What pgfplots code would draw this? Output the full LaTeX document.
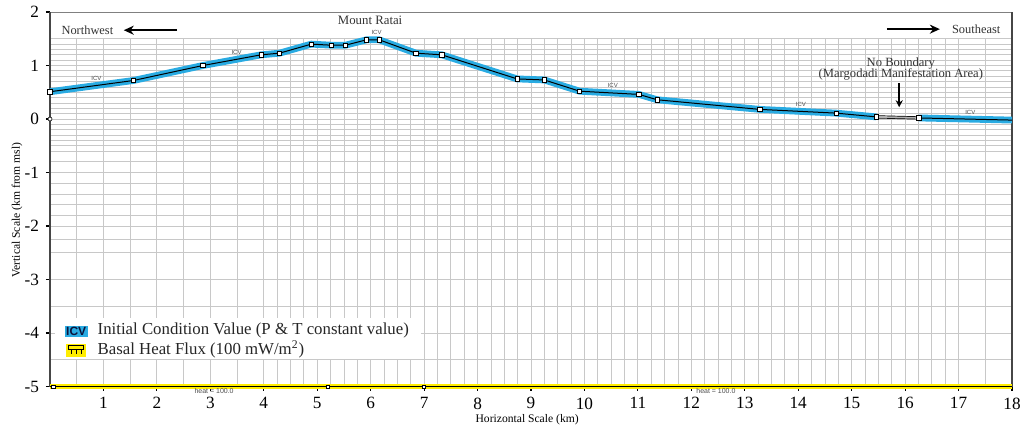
\documentclass[border=0pt]{standalone}
\usepackage{pgfplots}
\pgfplotsset{compat=1.18}
\usepackage{pgfplotstable}
\usepackage{fontspec}
\setmainfont{Liberation Serif}
\setsansfont{Liberation Sans}
\usetikzlibrary{arrows.meta}
\definecolor{icv}{RGB}{41,171,226}
\definecolor{heat}{RGB}{255,237,0}
\definecolor{gridc}{RGB}{200,200,200}
\definecolor{spine}{RGB}{70,70,70}

\pgfplotstableread{
x y
0.00 0.51
1.56 0.72
2.86 1.00
3.95 1.20
4.29 1.23
4.89 1.40
5.26 1.38
5.53 1.38
5.92 1.48
6.16 1.48
6.85 1.23
7.33 1.20
8.74 0.75
9.25 0.73
9.91 0.52
11.02 0.46
11.36 0.36
13.28 0.18
14.71 0.11
15.46 0.04
}\west
\pgfplotstableread{
x y
15.46 0.04
16.26 0.02
}\nob
\pgfplotstableread{
x y
16.26 0.02
18.00 -0.02
}\east
\pgfplotstableread{
x y
0 -5
18 -5
}\base

\begin{document}
\begin{tikzpicture}
\begin{axis}[
  name=ax, anchor=south west, at={(0,0)},
  scale only axis, width=481pt, height=187.25pt,
  xmin=0, xmax=18, ymin=-5, ymax=2,
  axis line style={draw=none},
  xtick={1,...,18}, ytick={-5,...,2},
  xtick pos=bottom, ytick pos=left,
  tick align=outside, major tick length=2pt,
  tick style={black, line width=0.6pt},
  ticklabel style={font=\fontsize{8.6}{9}\selectfont},
  /pgf/number format/assume math mode=true,
  xlabel={Horizontal Scale (km)},
  ylabel={Vertical Scale (km from msl)},
  xlabel style={font=\fontsize{5.8}{6}\selectfont, at={(axis description cs:0.496,-0.0894)}, anchor=center},
  ylabel style={font=\fontsize{5.8}{6}\selectfont, at={(axis description cs:-0.0343,0.471)}, anchor=center, rotate=0},
  clip=false,
]
% grid
\pgfplotsinvokeforeach{0.5,1,...,4}{\draw[gridc, line width=0.4pt] (axis cs:#1,-5) -- (axis cs:#1,1.5);}
\pgfplotsinvokeforeach{4.25,4.5,...,17}{\draw[gridc, line width=0.4pt] (axis cs:#1,-5) -- (axis cs:#1,1.5);}
\draw[gridc, line width=0.4pt] (axis cs:17.5,-5) -- (axis cs:17.5,1.5);
\pgfplotsinvokeforeach{-0.6,-0.5,...,1.5}{\draw[gridc, line width=0.4pt] (axis cs:0,#1) -- (axis cs:18,#1);}
\pgfplotsinvokeforeach{-2,-1.8,...,-0.8}{\draw[gridc, line width=0.4pt] (axis cs:0,#1) -- (axis cs:18,#1);}
\pgfplotsinvokeforeach{-4.5,-4,-3.5,-3,-2.5,-2.25}{\draw[gridc, line width=0.4pt] (axis cs:0,#1) -- (axis cs:18,#1);}
% spines
\draw[gray, line width=0.5pt] (axis cs:0,2) -- (axis cs:18,2);
\draw[spine, line width=0.6pt] (axis cs:0,-5) -- (axis cs:0,2);
\draw[spine, line width=1.2pt] (axis cs:0,-5) -- (axis cs:0,0.51);
\draw[spine, line width=1.4pt] (axis cs:18,-5) -- (axis cs:18,2);
% legend box
\fill[white] (axis cs:0.09,-3.72) rectangle (axis cs:6.95,-4.49);
% topography
\addplot[icv, line width=3.4pt] table {\west};
\addplot[icv, line width=3.4pt] table {\east};
\addplot[black, line width=0.5pt, mark=square*, mark size=1.1pt, mark options={fill=white, draw=black, line width=0.4pt}] table {\west};
\addplot[black, line width=1.6pt] table {\nob};
\addplot[gray!60, line width=0.9pt] table {\nob};
\addplot[black, line width=0.5pt] table {\east};
\addplot[only marks, mark=square*, mark size=1.1pt, mark options={fill=white, draw=black, line width=0.4pt}] coordinates {(15.46,0.04) (16.26,0.02)};
\addplot[only marks, mark=*, mark size=1pt, mark options={fill=white, draw=black, line width=0.3pt}] coordinates {(0,0)};
% basal heat flux
\addplot[heat, line width=2.6pt] table {\base};
\addplot[black, line width=0.5pt] table {\base};
\addplot[only marks, mark=square*, mark size=0.8pt, mark options={fill=white, draw=black, line width=0.3pt}] coordinates {(0.06,-5) (5.2,-5) (7.0,-5)};
\node[font=\fontsize{3.5}{4}\sffamily, text=black!70] at (axis cs:3.07,-5.08) {heat = 100.0};
\node[font=\fontsize{3.5}{4}\sffamily, text=black!70] at (axis cs:12.46,-5.08) {heat = 100.0};
% ICV labels
\foreach \p in {{0.87,0.75},{3.49,1.24},{6.11,1.61},{10.53,0.62},{14.05,0.27},{17.22,0.125}}{}
\node[font=\fontsize{3}{3}\sffamily, text=black!70] at (axis cs:0.87,0.75) {ICV};
\node[font=\fontsize{3}{3}\sffamily, text=black!70] at (axis cs:3.49,1.24) {ICV};
\node[font=\fontsize{3}{3}\sffamily, text=black!70] at (axis cs:6.11,1.61) {ICV};
\node[font=\fontsize{3}{3}\sffamily, text=black!70] at (axis cs:10.53,0.62) {ICV};
\node[font=\fontsize{3}{3}\sffamily, text=black!70] at (axis cs:14.05,0.27) {ICV};
\node[font=\fontsize{3}{3}\sffamily, text=black!70] at (axis cs:17.22,0.125) {ICV};
% annotations
\node[font=\fontsize{6.2}{7}\selectfont, text=black!80] at (axis cs:0.70,1.66) {Northwest};
\draw[black, line width=1pt, -{Stealth[length=5pt,width=4.5pt]}] (axis cs:2.38,1.66) -- (axis cs:1.38,1.66);
\node[font=\fontsize{6.2}{7}\selectfont, text=black!80] at (axis cs:17.33,1.68) {Southeast};
\draw[black, line width=1pt, -{Stealth[length=5pt,width=4.5pt]}] (axis cs:15.66,1.68) -- (axis cs:16.65,1.68);
\node[font=\fontsize{6.4}{7}\selectfont, text=black!80] at (axis cs:5.99,1.85) {Mount Ratai};
\node[font=\fontsize{6.3}{7}\selectfont, text=black!80, align=center] at (axis cs:15.92,0.93) {No Boundary\\[-1.5pt](Margodadi Manifestation Area)};
\draw[black, line width=0.9pt, -{Stealth[length=3.5pt,width=3.5pt]}] (axis cs:15.89,0.67) -- (axis cs:15.89,0.22);
% legend
\node[fill=icv, inner sep=0.7pt, font=\fontsize{6}{6}\sffamily\bfseries, text={rgb,255:red,10;green,20;blue,60}] at (axis cs:0.49,-3.97) {ICV};
\coordinate (hf) at (axis cs:0.49,-4.32);
\fill[heat] ([xshift=-5pt,yshift=-3.2pt]hf) rectangle ([xshift=5pt,yshift=3.2pt]hf);
\draw[black, line width=0.4pt] ([xshift=-3.8pt,yshift=0.3pt]hf) rectangle ([xshift=3.8pt,yshift=2.2pt]hf);
\draw[black, line width=0.4pt] ([xshift=-2.5pt,yshift=0.3pt]hf) -- ([xshift=-2.5pt,yshift=-1.8pt]hf);
\draw[black, line width=0.4pt] ([xshift=0pt,yshift=0.3pt]hf) -- ([xshift=0pt,yshift=-1.8pt]hf);
\draw[black, line width=0.4pt] ([xshift=2.5pt,yshift=0.3pt]hf) -- ([xshift=2.5pt,yshift=-1.8pt]hf);
\node[anchor=west, font=\fontsize{8.4}{9}\selectfont, text=black!85] at (axis cs:0.76,-3.96) {Initial Condition Value (P \& T constant value)};
\node[anchor=west, font=\fontsize{8.4}{9}\selectfont, text=black!85] at (axis cs:0.76,-4.31) {Basal Heat Flux (100 mW/m\textsuperscript{2})};
\end{axis}
\pgfresetboundingbox
\path (-25pt,-21.75pt) rectangle (486.5pt,193.25pt);
\end{tikzpicture}
\end{document}
